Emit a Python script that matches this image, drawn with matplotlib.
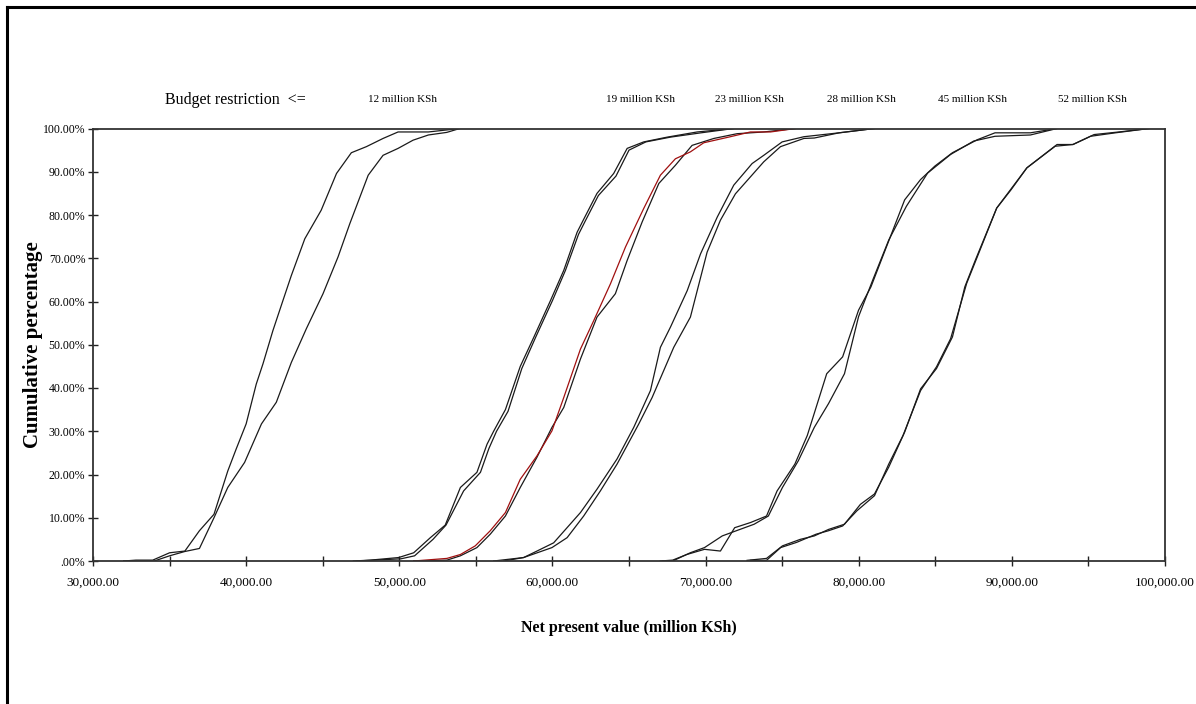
import matplotlib.pyplot as plt
from matplotlib.lines import Line2D
from matplotlib.ticker import FixedLocator, MultipleLocator

# Cumulative distributions of net present value (million KSh) by budget restriction
# 12 million KSh
npv_12_a = [32000, 32800, 33900, 35000, 36000, 36950, 37900, 38800, 39350, 40000, 40660, 41100,
            41750, 42400, 42950, 43830, 44900, 45900, 46870, 47850, 48940, 49920, 50900, 51900, 53950]
cum_12_a = [0, 0.2, 0.2, 1.9, 2.3, 7.0, 10.8, 20.8, 25.9, 31.7, 40.9, 45.6,
            53.3, 60.2, 66.0, 74.5, 81.1, 89.6, 94.4, 95.8, 97.7, 99.2, 99.2, 99.2, 100]
npv_12_b = [32000, 32800, 34000, 35000, 36000, 36950, 37900, 38800, 39900, 41000, 41970, 42950,
            43930, 45020, 46000, 46770, 47970, 48940, 49920, 50900, 51900, 53100, 53950]
cum_12_b = [0, 0, 0, 1.2, 2.2, 2.9, 10.0, 17.0, 22.8, 31.7, 36.7, 45.9,
            53.7, 61.8, 70.3, 78.0, 89.2, 93.8, 95.4, 97.3, 98.5, 99.1, 100]

# 19 million KSh
npv_19_a = [47000, 48100, 49960, 50940, 52030, 53000, 53990, 55070, 55730, 56160, 56930, 57900,
            58780, 59870, 60740, 61610, 62040, 62910, 64000, 64880, 65960, 67490, 69450, 71840]
cum_19_a = [0, 0.2, 0.8, 1.9, 5.4, 8.3, 17.0, 20.5, 27.0, 30.0, 35.0, 45.0,
            51.7, 60.2, 67.2, 76.0, 79.0, 85.0, 89.6, 95.4, 96.9, 98.0, 99.2, 100]
npv_19_b = [47200, 48300, 50100, 51000, 52200, 53050, 54200, 55300, 55850, 56350, 57100, 58000,
            58900, 60000, 60850, 61700, 62200, 63000, 64150, 65000, 66100, 67700, 69700, 71840]
cum_19_b = [0, 0.2, 0.5, 1.2, 5.0, 8.3, 16.2, 20.5, 26.0, 30.0, 34.6, 44.5,
            51.7, 60.2, 67.2, 75.5, 79.0, 84.5, 89.0, 95.0, 96.9, 98.0, 99.0, 100]

# 23 million KSh (red and black)
npv_23_a = [50940, 53110, 53990, 54960, 55940, 56930, 57900, 58990, 59970, 60740, 61830, 62700,
            63790, 64770, 65960, 67050, 68030, 69010, 69880, 71620, 72930, 74240, 75870]
cum_23_a = [0, 0.6, 1.5, 3.5, 7.0, 11.2, 18.9, 24.3, 30.1, 37.8, 49.0, 55.6,
            64.1, 72.6, 81.5, 89.2, 93.0, 94.6, 96.7, 98.1, 99.2, 99.2, 100]
npv_23_b = [50940, 53110, 53990, 55070, 55940, 56930, 57900, 58990, 59970, 60740, 61830, 62910,
            64110, 64880, 65860, 66950, 68030, 69120, 70540, 72060, 73800, 75870]
cum_23_b = [0, 0.2, 1.2, 3.1, 6.2, 10.4, 17.0, 24.0, 30.9, 35.5, 46.7, 56.4,
            61.8, 69.5, 78.4, 87.3, 91.5, 96.1, 97.7, 98.8, 99.2, 100]

# 28 million KSh
npv_28_a = [56160, 58120, 58990, 60080, 61830, 62910, 64220, 65310, 66400, 67050, 67710, 68800,
            69670, 70760, 71840, 73040, 73800, 75000, 76420, 78720, 81030]
cum_28_a = [0, 0.8, 2.3, 4.2, 11.2, 16.6, 23.6, 30.9, 39.4, 49.4, 54.1, 62.5,
            71.0, 79.5, 86.9, 91.9, 93.8, 96.9, 98.1, 99.0, 100]
npv_28_b = [56820, 58120, 59970, 60960, 62040, 63130, 64220, 65640, 66510, 67920, 69010, 70100,
            70970, 71950, 73800, 74890, 76420, 77100, 78720, 81030]
cum_28_b = [0, 0.8, 3.1, 5.4, 10.4, 16.2, 22.4, 31.7, 37.8, 49.4, 56.4, 71.4,
            78.8, 84.9, 92.3, 95.8, 97.7, 97.8, 99.0, 100]

# 45 million KSh
npv_45_a = [67040, 67850, 68770, 69930, 70970, 71900, 72940, 73980, 74670, 75830, 76640, 77910,
            78950, 79990, 80800, 81730, 83000, 84040, 84970, 86120, 87740, 88900, 91210, 92950]
cum_45_a = [0, 0.2, 1.5, 2.7, 2.3, 7.7, 8.9, 10.4, 16.2, 22.4, 29.0, 43.3,
            47.2, 58.0, 63.4, 71.9, 83.5, 88.2, 91.3, 94.4, 97.4, 99.0, 99.0, 100]
npv_45_b = [67200, 67850, 69000, 69930, 71090, 72010, 73170, 74100, 75020, 76060, 77100, 78030,
            79070, 79990, 80920, 81960, 83110, 84500, 86000, 87510, 88900, 91210, 92950]
cum_45_b = [0, 0, 1.9, 3.1, 5.8, 7.0, 8.5, 10.4, 17.0, 23.2, 30.9, 36.4,
            43.3, 56.5, 65.0, 74.2, 82.0, 89.7, 94.0, 97.1, 98.2, 98.5, 100]

# 52 million KSh
npv_52_a = [72710, 73980, 75020, 76180, 77100, 78030, 79070, 80110, 81030, 81960, 83000, 84040,
            85080, 86120, 86930, 87620, 89010, 89940, 90980, 92830, 93990, 95140, 96760, 98960]
cum_52_a = [0.15, 0.6, 3.5, 5.0, 5.8, 7.3, 8.5, 13.1, 15.5, 21.7, 29.8, 39.8,
            44.5, 51.8, 63.4, 69.6, 81.6, 85.8, 90.9, 95.9, 96.3, 98.2, 99.0, 100]
npv_52_b = [72940, 73980, 74900, 75940, 77220, 78030, 78950, 79880, 81030, 81960, 82890, 84040,
            85080, 86000, 87050, 87740, 89010, 90980, 92950, 93990, 95370, 96990, 98960]
cum_52_b = [0.15, 0.15, 3.1, 4.3, 6.2, 7.0, 8.1, 11.6, 15.1, 22.4, 29.0, 39.4,
            44.9, 51.4, 64.2, 70.3, 81.6, 90.9, 96.3, 96.3, 98.6, 99.2, 100]

budget_labels = ["12 million KSh", "19 million KSh", "23 million KSh",
                 "28 million KSh", "45 million KSh", "52 million KSh"]
xtick_values = [30000, 40000, 50000, 60000, 70000, 80000, 90000, 100000]
xtick_labels = ["30,000.00", "40,000.00", "50,000.00", "60,000.00",
                "70,000.00", "80,000.00", "90,000.00", "100,000.00"]
ytick_values = [0, 10, 20, 30, 40, 50, 60, 70, 80, 90, 100]
ytick_labels = [".00%", "10.00%", "20.00%", "30.00%", "40.00%", "50.00%",
                "60.00%", "70.00%", "80.00%", "90.00%", "100.00%"]

plt.rcParams["font.family"] = ["Liberation Serif", "DejaVu Serif"]

W, H = 1196, 704
fig = plt.figure(figsize=(W / 100, H / 100), dpi=100)
ax = fig.add_axes([93 / W, 1 - 561 / H, (1165 - 93) / W, (561 - 128.5) / H])

line_kw = dict(color="#1a1a1a", linewidth=0.9)
curves = [
    (npv_12_a, cum_12_a), (npv_12_b, cum_12_b),
    (npv_19_a, cum_19_a), (npv_19_b, cum_19_b),
    (npv_23_b, cum_23_b),
    (npv_28_a, cum_28_a), (npv_28_b, cum_28_b),
    (npv_45_a, cum_45_a), (npv_45_b, cum_45_b),
    (npv_52_a, cum_52_a), (npv_52_b, cum_52_b),
]
for xs, ys in curves:
    ax.plot(xs, ys, **line_kw)
# the highlighted 23 million curve
ax.plot(npv_23_a, cum_23_a, color="#a01010", linewidth=0.9)

ax.set_xlim(30000, 100000)
ax.set_ylim(0, 100)

ax.xaxis.set_major_locator(FixedLocator(xtick_values))
ax.set_xticklabels(xtick_labels, fontsize=9.5)
ax.xaxis.set_minor_locator(MultipleLocator(5000))
ax.set_yticks(ytick_values)
ax.set_yticklabels(ytick_labels, fontsize=8.5)
ax.tick_params(axis="both", which="both", direction="inout", length=7, width=1, color="#222")
ax.tick_params(axis="x", pad=8)
ax.tick_params(axis="y", pad=2)

for sp in ax.spines.values():
    sp.set_color("#333333")
    sp.set_linewidth(1.3)

ax.set_xlabel("Net present value (million KSh)", fontsize=11.5, fontweight="bold", labelpad=22)
fig.text(33 / W, 1 - 345 / H, "Cumulative percentage", rotation=90, ha="center", va="center",
         fontsize=15, fontweight="bold")

# header row with budget restrictions
fig.text(165 / W, 1 - 100 / H, "Budget restriction  <=", ha="left", va="center", fontsize=11.5)
label_x = [402, 640, 749, 861, 972, 1092]
for lx, lab in zip(label_x, budget_labels):
    fig.text(lx / W, 1 - 100 / H, lab, ha="center", va="center", fontsize=8)

# page frame (top and left edges)
fig.add_artist(Line2D([6.5 / W, 1], [1 - 7 / H, 1 - 7 / H], color="black", linewidth=2.2))
fig.add_artist(Line2D([6.5 / W, 6.5 / W], [0, 1 - 7 / H], color="black", linewidth=2.2))

fig.savefig("out.png", dpi=100)
